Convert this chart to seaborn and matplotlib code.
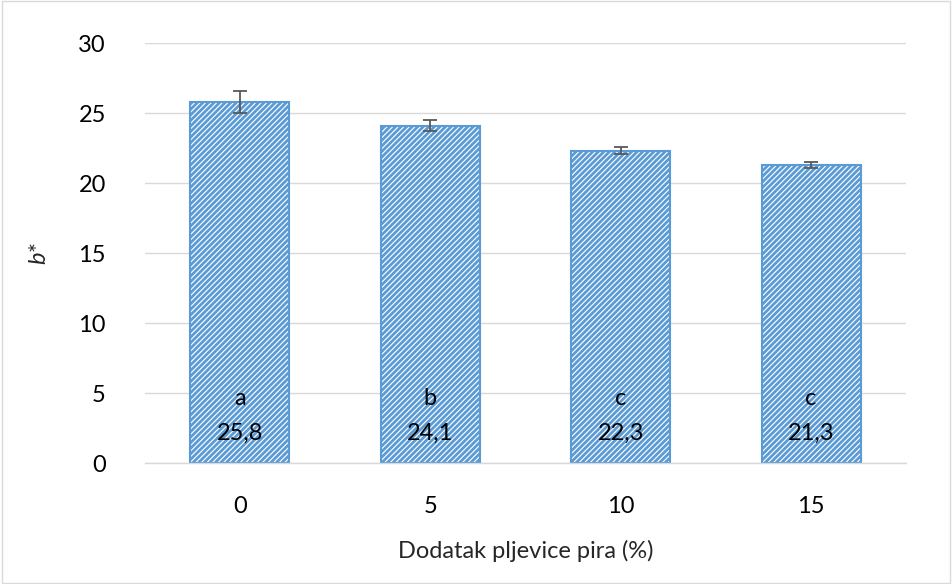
import matplotlib
matplotlib.use("Agg")
import matplotlib.pyplot as plt
import seaborn as sns
import pandas as pd
import numpy as np

categories = ["0", "5", "10", "15"]
values = [25.8, 24.1, 22.3, 21.3]
errors = [0.8, 0.4, 0.25, 0.2]
letters = ["a", "b", "c", "c"]
value_labels = ["25,8", "24,1", "22,3", "21,3"]

sns.set_theme(style="white")
plt.rcParams['font.family'] = ['Lato', 'DejaVu Sans']
plt.rcParams['hatch.linewidth'] = 2.0
plt.rcParams['hatch.color'] = '#5B9BD5'
plt.rcParams['mathtext.fontset'] = 'custom'
plt.rcParams['mathtext.it'] = 'Lato:italic'

df = pd.DataFrame({"cat": categories, "val": values})

fig = plt.figure(figsize=(9.52, 5.84), dpi=100)
ax = fig.add_axes([0.152, 0.207, 0.8, 0.719])

sns.barplot(data=df, x="cat", y="val", ax=ax, color="white", width=0.52,
            edgecolor="#5B9BD5", linewidth=1.5, errorbar=None)
for p in ax.patches:
    p.set_hatch("//////")
    p.set_facecolor("white")
    p.set_edgecolor("#5B9BD5")

xs = np.arange(len(categories))
ax.errorbar(xs, values, yerr=errors, fmt="none", ecolor="#595959",
            elinewidth=1.3, capsize=5, capthick=1.3, zorder=5)

for x, l, v in zip(xs, letters, value_labels):
    ax.text(x, 4.6, l, ha="center", va="center", fontsize=17, color="black")
    ax.text(x, 2.1, v, ha="center", va="center", fontsize=17, color="black")

ax.set_xlim(-0.5, len(categories) - 0.5)
ax.set_ylim(0, 30)
ax.set_yticks([0, 5, 10, 15, 20, 25, 30])
ax.yaxis.grid(True, color="#D9D9D9", linewidth=1)
ax.set_axisbelow(True)
for s in ["top", "right", "left"]:
    ax.spines[s].set_visible(False)
ax.spines["bottom"].set_color("#D9D9D9")
ax.spines["bottom"].set_linewidth(1)
ax.tick_params(axis="both", length=0, labelsize=17, colors="black")
ax.tick_params(axis="y", pad=28)
ax.tick_params(axis="x", pad=24)
ax.set_xlabel("Dodatak pljevice pira (%)", fontsize=17, labelpad=16)
ax.set_ylabel(r"$\it{b}$*", fontsize=17, labelpad=20)

fig.patches.append(plt.Rectangle((0.002, 0.002), 0.996, 0.996, transform=fig.transFigure,
                                 fill=False, edgecolor="#D9D9D9", linewidth=1))
fig.savefig("out.png", dpi=100, facecolor="white")
